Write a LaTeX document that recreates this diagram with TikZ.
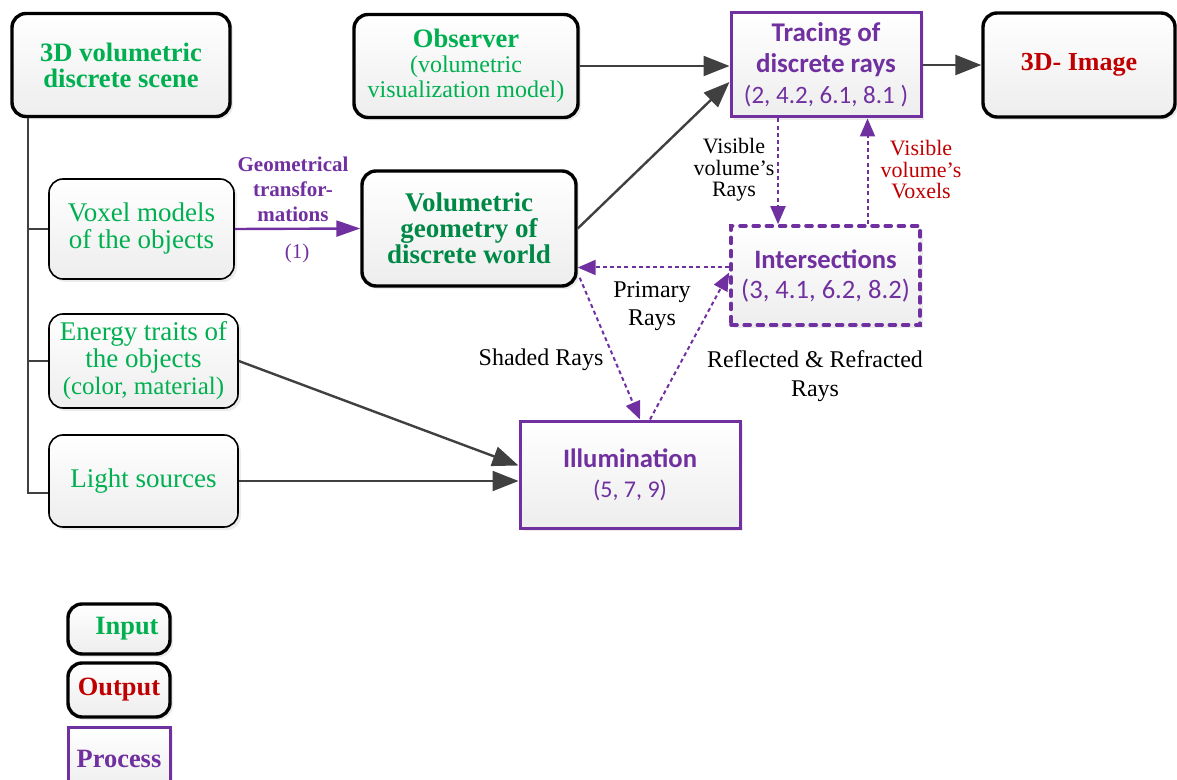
\documentclass[tikz,border=0pt]{standalone}
\usepackage{fontspec}
\setmainfont{Liberation Serif}
\newfontfamily\calibrifont{Carlito}
\usetikzlibrary{arrows.meta, shapes, positioning, shadows}
\usepackage{xcolor}
\definecolor{inputgreen}{RGB}{0,176,80}
\definecolor{worldgreen}{RGB}{0,137,70}
\definecolor{outputred}{RGB}{192,0,0}
\definecolor{processpurple}{RGB}{112,48,160}
\definecolor{arrowgray}{RGB}{64,64,64}
\tikzset{inputbox/.style={rounded corners=7pt, draw=black, line width=1.7pt, top color=white, bottom color=gray!14, drop shadow={shadow xshift=1.5pt, shadow yshift=-1.5pt, fill=black!15}, align=center, inner sep=2pt},thininputbox/.style={inputbox, line width=0.8pt, font=\fontsize{13.5}{13.5}\selectfont, text=inputgreen}}
\tikzset{processbox/.style={rectangle, draw=processpurple, line width=1.5pt, top color=white, bottom color=gray!14, drop shadow={shadow xshift=1.5pt, shadow yshift=-1.5pt, fill=black!15}, align=center, inner sep=2pt, text=processpurple, font=\calibrifont\fontsize{12.5}{15.5}\selectfont},dashedprocessbox/.style={processbox, dash pattern=on 3pt off 3.6pt, line cap=round, line width=1.8pt}}
\tikzset{grayarrow/.style={-{Triangle[length=13pt, width=10pt]}, draw=arrowgray, line width=1.2pt},rayarrow/.style={-{Triangle[length=9pt, width=7.5pt]}, draw=processpurple, line width=1pt, dash pattern=on 2pt off 1.6pt},treeline/.style={draw=arrowgray, line width=1pt},raylabel/.style={align=center, font=\fontsize{11}{10.75}\selectfont}}

\begin{document}
\begin{tikzpicture}[x=0.5pt, y=-0.5pt]
        \useasboundingbox (0,0) rectangle (1177,780);
        % Input and output boxes
        \node[inputbox, minimum width=109pt, minimum height=51.5pt, text=inputgreen, font=\bfseries\fontsize{13.3}{13}\selectfont] (scene) at (121,65) {3D volumetric\\discrete scene};
        \node[inputbox, minimum width=112pt, minimum height=51.5pt, text=inputgreen, font=\fontsize{12}{12.5}\selectfont] (observer) at (466,66) {{\bfseries\fontsize{13.3}{12.5}\selectfont Observer}\\(volumetric\\visualization model)};
        \node[inputbox, minimum width=96pt, minimum height=52pt, text=outputred, font=\bfseries\fontsize{13}{13}\selectfont] (image) at (1079,65) {3D- Image};
        \node[inputbox, minimum width=107pt, minimum height=57.5pt, text=worldgreen, font=\bfseries\fontsize{13.5}{13}\selectfont] (world) at (469,228.5) {Volumetric\\geometry of\\discrete world};
        \node[thininputbox, minimum width=92.5pt, minimum height=50pt] (voxel) at (141.5,229) {Voxel models\\of the objects};
        \node[thininputbox, minimum width=94.5pt, minimum height=47pt] (energy) at (143.5,361) {Energy traits of\\the objects\\{\fontsize{12.5}{12}\selectfont (color, material)}};
        \node[thininputbox, minimum width=94.5pt, minimum height=46pt] (light) at (143.5,481) {Light sources};
        % Process boxes
        \node[processbox, minimum width=95pt, minimum height=52pt] (tracing) at (826,65) {\textbf{\fontsize{13.5}{15.5}\selectfont Tracing of}\\\textbf{\fontsize{13.5}{15.5}\selectfont discrete rays}\\(2, 4.2, 6.1, 8.1 )};
        \node[dashedprocessbox, minimum width=94.5pt, minimum height=49.5pt, font=\calibrifont\fontsize{13.3}{15}\selectfont] (intersections) at (825.5,275.5) {\textbf{Intersections}\\(3, 4.1, 6.2, 8.2)};
        \node[processbox, minimum width=110pt, minimum height=53.5pt, font=\calibrifont\fontsize{12}{15}\selectfont] (illumination) at (630,474.5) {\textbf{\fontsize{13.3}{15}\selectfont Illumination}\\(5, 7, 9)};
        % Legend
        \node[inputbox, minimum width=51pt, minimum height=25pt, text=inputgreen, font=\bfseries\fontsize{13.2}{13}\selectfont] (leginput) at (119,629) {\hspace{8pt}Input};
        \node[inputbox, minimum width=51pt, minimum height=27pt, text=outputred, font=\bfseries\fontsize{13.2}{13}\selectfont] (legoutput) at (119,690) {Output};
        \node[processbox, minimum width=51pt, minimum height=31.5pt, font=\bfseries\fontsize{13.2}{13}\selectfont] (legprocess) at (119,758.5) {Process};
        % Scene tree
        \coordinate (root) at ([xshift=9pt]scene.south west);
        \draw[treeline] (root) |- ([yshift=-6pt]light.west);
        \foreach \leaf in {voxel, energy} {
            \draw[treeline] (root |- \leaf.west) -- (\leaf.west);
        }
        % Solid arrows
        \draw[grayarrow] (observer.east) -- (observer.east -| tracing.west);
        \draw[grayarrow] (world.east) -- ([yshift=-8.5pt]tracing.west);
        \draw[grayarrow] (tracing.east) -- (image.west);
        \draw[grayarrow] (energy.east) -- ([yshift=4.5pt]illumination.west);
        \draw[grayarrow] (light.east) -- (light.east -| illumination.west);
        \draw[-{Triangle[length=12pt, width=8pt]}, draw=processpurple, line width=1.2pt] (voxel.east) -- (world.west);
        % Ray arrows
        \draw[rayarrow] ([xshift=-24pt]tracing.south) -- ([xshift=-24pt]tracing.south |- intersections.north);
        \draw[rayarrow] ([xshift=21pt]intersections.north) -- ([xshift=21pt]intersections.north |- tracing.south);
        \draw[rayarrow] ([yshift=4pt]intersections.west) coordinate (primstart) -- (primstart -| world.east);
        \draw[rayarrow] ([xshift=1pt, yshift=5pt]world.south east) -- ([xshift=5pt]illumination.north);
        \draw[rayarrow] ([xshift=10pt]illumination.north) -- ([yshift=1.5pt]intersections.west);
        % Labels
        \node[raylabel, text=processpurple, font=\bfseries\fontsize{10.5}{12.5}\selectfont] (geomlabel) at (293,189) {Geometrical\\transfor-\\mations};
        \node[text=processpurple, font=\fontsize{10.5}{12}\selectfont] (steplabel) at (297,253) {(1)};
        \node[raylabel] (visrays) at (734,170) {Visible\\volume’s\\Rays};
        \node[raylabel, text=outputred] (visvoxels) at (921,170) {Visible\\volume’s\\Voxels};
        \node[raylabel, font=\fontsize{12}{14}\selectfont] (primary) at (652,306) {Primary\\Rays};
        \node[raylabel, font=\fontsize{12}{14}\selectfont] (shaded) at (541,360) {Shaded Rays};
        \node[raylabel, font=\fontsize{12}{14.5}\selectfont] (reflected) at (815,376) {Reflected \& Refracted\\Rays};
\end{tikzpicture}
\end{document}
